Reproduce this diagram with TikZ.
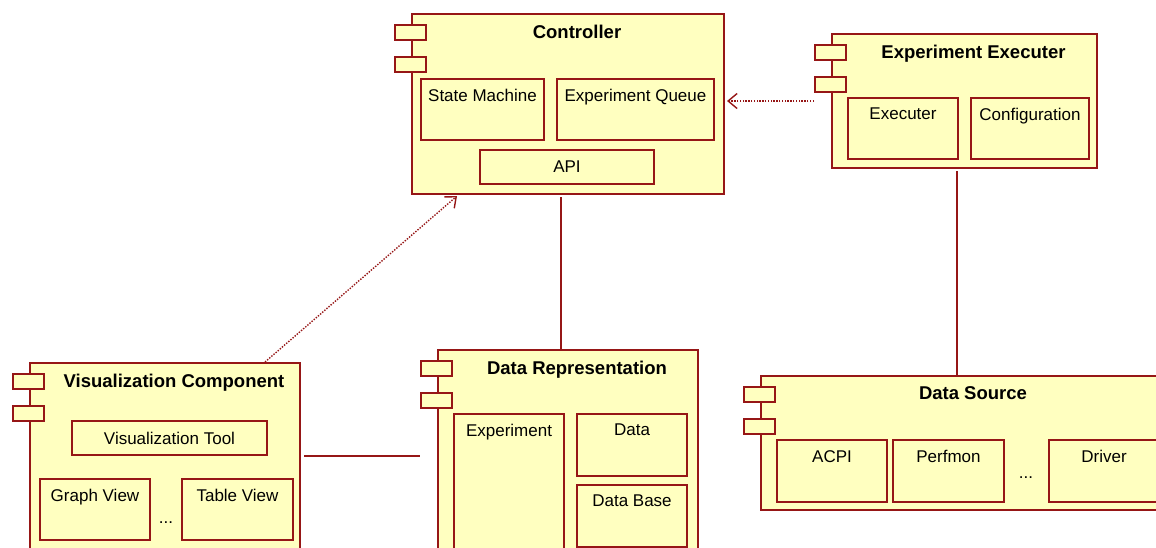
\documentclass[tikz,border=0pt]{standalone}
\usepackage{fontspec}
\setmainfont{Liberation Sans}
\usepackage{xcolor}
\usetikzlibrary{arrows.meta, positioning, calc}

\definecolor{umlred}{RGB}{150,22,22}
\definecolor{umlyellow}{RGB}{255,255,192}

\tikzset{
    comp/.style={draw=umlred, fill=umlyellow, line width=2pt, anchor=north west,
        inner sep=0pt, minimum width=#1},
    part/.style={draw=umlred, fill=umlyellow, line width=2pt, anchor=north west,
        inner sep=0pt, minimum width=#1, font=\fontsize{17}{20}\selectfont},
    tab/.style={draw=umlred, fill=umlyellow, line width=2pt, anchor=north west,
        inner sep=0pt, minimum width=31pt, minimum height=15pt},
    title/.style={anchor=north, inner sep=0pt, yshift=-11.5pt, xshift=9pt,
        font=\fontsize{18.5}{22}\selectfont\bfseries},
    txt/.style={anchor=north, inner sep=0pt, yshift=-11pt,
        font=\fontsize{17}{20}\selectfont},
    wire/.style={draw=umlred, line width=1.7pt},
    dep/.style={draw=umlred, line width=1.4pt, dash pattern=on 1.4pt off 1.4pt,
        -{Straight Barb[length=9pt, width=15pt, line width=1.4pt]}},
}

\begin{document}
\begin{tikzpicture}[x=1pt,y=-1pt]
    \useasboundingbox (0,0) rectangle (1156,547);
    \clip (0,0) rectangle (1156,547);

    % components
    \node[comp=312pt, minimum height=180pt, label={[title]north:Controller}] (ctrl) at (411,13) {};
    \node[comp=265pt, minimum height=134pt, label={[title]north:Experiment Executer}] (ee) at (831,33) {};
    \node[comp=270pt, minimum height=200pt, label={[title]north:Visualization Component}] (viz) at (29,362) {};
    \node[comp=260pt, minimum height=220pt, label={[title]north:Data Representation}] (dr) at (437,349) {};
    \node[comp=406pt, minimum height=134pt, label={[title]north:Data Source}] (ds) at (760,375) {};

    \foreach \c in {ctrl, ee, viz, dr, ds} {
        \node[tab] (\c-t1) at ([xshift=-17pt, yshift=-11pt]\c.north west) {};
        \node[tab] (\c-t2) at ([xshift=-17pt, yshift=-43pt]\c.north west) {};
    }

    % parts of the controller
    \node[part=123pt, minimum height=61pt, label={[txt]north:State Machine}] (sm) at (420,78) {};
    \node[part=157pt, minimum height=61pt, label={[txt]north:Experiment Queue}] (eq) at (556,78) {};
    \node[part=174pt, minimum height=34pt] (api) at (479,149) {API};

    % parts of the executer
    \node[part=110pt, minimum height=61pt, label={[txt]north:Executer}] (exe) at (847,97) {};
    \node[part=118pt, minimum height=61pt, label={[txt]north:Configuration}] (cfg) at (970,97) {};

    % parts of the visualization
    \node[part=195pt, minimum height=34pt] (vt) at (71,420) {Visualization Tool};
    \node[part=110pt, minimum height=61pt, label={[txt]north:Graph View}] (gv) at (39,478) {};
    \node[part=111pt, minimum height=61pt, label={[txt]north:Table View}] (tv) at (181,478) {};
    \node[font=\fontsize{17}{20}\selectfont] (vdots) at (166,523) {...};

    % parts of the data representation
    \node[part=110pt, minimum height=150pt, label={[txt]north:Experiment}] (ex) at (453,413) {};
    \node[part=110pt, minimum height=62pt, label={[txt]north:Data}] (dat) at (576,413) {};
    \node[part=110pt, minimum height=62pt, label={[txt]north:Data Base}] (db) at (576,484) {};

    % parts of the data source
    \node[part=110pt, minimum height=62pt, label={[txt]north:ACPI}] (acpi) at (776,439) {};
    \node[part=111pt, minimum height=62pt, label={[txt]north:Perfmon}] (pm) at (892,439) {};
    \node[part=110pt, minimum height=62pt, label={[txt]north:Driver}] (drv) at (1048,439) {};
    \node[font=\fontsize{17}{20}\selectfont] (sdots) at (1026,478) {...};

    % connectors
    \draw[dep] (ee.west -| ee-t1.west) -- ([xshift=2pt]ee.west -| ctrl.east);
    \draw[dep] ([xshift=100pt]viz.north) -- ([xshift=46pt, yshift=-1pt]ctrl.south west);
    \draw[wire, shorten <=2pt] ([xshift=-7pt]ctrl.south) -- ([xshift=-7pt]dr.north);
    \draw[wire, shorten <=2pt] ([xshift=-7.5pt]ee.south) -- ([xshift=-7.5pt]ee.south |- ds.north);
    \draw[wire] ([xshift=3pt]viz.east |- vt.south) -- (dr-t1.west |- vt.south);
\end{tikzpicture}
\end{document}
